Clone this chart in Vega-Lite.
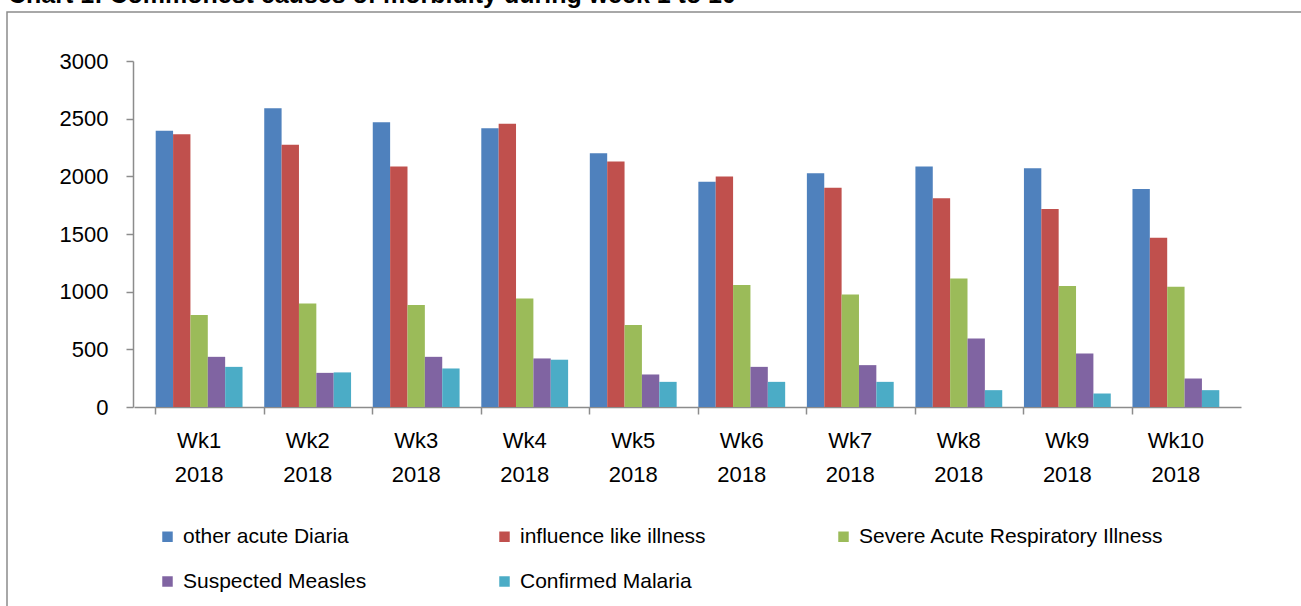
{
  "$schema": "https://vega.github.io/schema/vega-lite/v6.json",
  "autosize": "none",
  "padding": {"left": 7, "top": 12, "right": 0, "bottom": 0},
  "width": 1300,
  "height": 600,
  "background": "white",
  "title": {
    "text": "Chart 1: Commonest causes of morbidity during week 1 to 10",
    "anchor": "start",
    "frame": "group",
    "font": "Liberation Sans",
    "fontSize": 25,
    "fontWeight": "bold",
    "color": "black",
    "baseline": "alphabetic",
    "offset": 0,
    "dx": 1,
    "dy": 16
  },
  "config": {
    "view": {"stroke": "#8c8c8c", "strokeWidth": 1.5},
    "font": "Liberation Sans"
  },
  "data": {
    "values": [
      {"week": "Wk1 2018", "cause": "other acute Diaria", "cases": 2395},
      {"week": "Wk1 2018", "cause": "influence like illness", "cases": 2365},
      {"week": "Wk1 2018", "cause": "Severe Acute Respiratory Illness", "cases": 797},
      {"week": "Wk1 2018", "cause": "Suspected Measles", "cases": 435},
      {"week": "Wk1 2018", "cause": "Confirmed Malaria", "cases": 348},
      {"week": "Wk2 2018", "cause": "other acute Diaria", "cases": 2590},
      {"week": "Wk2 2018", "cause": "influence like illness", "cases": 2273},
      {"week": "Wk2 2018", "cause": "Severe Acute Respiratory Illness", "cases": 898},
      {"week": "Wk2 2018", "cause": "Suspected Measles", "cases": 296},
      {"week": "Wk2 2018", "cause": "Confirmed Malaria", "cases": 300},
      {"week": "Wk3 2018", "cause": "other acute Diaria", "cases": 2469},
      {"week": "Wk3 2018", "cause": "influence like illness", "cases": 2085},
      {"week": "Wk3 2018", "cause": "Severe Acute Respiratory Illness", "cases": 884},
      {"week": "Wk3 2018", "cause": "Suspected Measles", "cases": 435},
      {"week": "Wk3 2018", "cause": "Confirmed Malaria", "cases": 334},
      {"week": "Wk4 2018", "cause": "other acute Diaria", "cases": 2417},
      {"week": "Wk4 2018", "cause": "influence like illness", "cases": 2455},
      {"week": "Wk4 2018", "cause": "Severe Acute Respiratory Illness", "cases": 941},
      {"week": "Wk4 2018", "cause": "Suspected Measles", "cases": 421},
      {"week": "Wk4 2018", "cause": "Confirmed Malaria", "cases": 410},
      {"week": "Wk5 2018", "cause": "other acute Diaria", "cases": 2200},
      {"week": "Wk5 2018", "cause": "influence like illness", "cases": 2128},
      {"week": "Wk5 2018", "cause": "Severe Acute Respiratory Illness", "cases": 710},
      {"week": "Wk5 2018", "cause": "Suspected Measles", "cases": 282},
      {"week": "Wk5 2018", "cause": "Confirmed Malaria", "cases": 218},
      {"week": "Wk6 2018", "cause": "other acute Diaria", "cases": 1954},
      {"week": "Wk6 2018", "cause": "influence like illness", "cases": 1998},
      {"week": "Wk6 2018", "cause": "Severe Acute Respiratory Illness", "cases": 1057},
      {"week": "Wk6 2018", "cause": "Suspected Measles", "cases": 348},
      {"week": "Wk6 2018", "cause": "Confirmed Malaria", "cases": 218},
      {"week": "Wk7 2018", "cause": "other acute Diaria", "cases": 2027},
      {"week": "Wk7 2018", "cause": "influence like illness", "cases": 1902},
      {"week": "Wk7 2018", "cause": "Severe Acute Respiratory Illness", "cases": 976},
      {"week": "Wk7 2018", "cause": "Suspected Measles", "cases": 363},
      {"week": "Wk7 2018", "cause": "Confirmed Malaria", "cases": 218},
      {"week": "Wk8 2018", "cause": "other acute Diaria", "cases": 2085},
      {"week": "Wk8 2018", "cause": "influence like illness", "cases": 1810},
      {"week": "Wk8 2018", "cause": "Severe Acute Respiratory Illness", "cases": 1115},
      {"week": "Wk8 2018", "cause": "Suspected Measles", "cases": 594},
      {"week": "Wk8 2018", "cause": "Confirmed Malaria", "cases": 146},
      {"week": "Wk9 2018", "cause": "other acute Diaria", "cases": 2070},
      {"week": "Wk9 2018", "cause": "influence like illness", "cases": 1717},
      {"week": "Wk9 2018", "cause": "Severe Acute Respiratory Illness", "cases": 1049},
      {"week": "Wk9 2018", "cause": "Suspected Measles", "cases": 464},
      {"week": "Wk9 2018", "cause": "Confirmed Malaria", "cases": 117},
      {"week": "Wk10 2018", "cause": "other acute Diaria", "cases": 1891},
      {"week": "Wk10 2018", "cause": "influence like illness", "cases": 1468},
      {"week": "Wk10 2018", "cause": "Severe Acute Respiratory Illness", "cases": 1043},
      {"week": "Wk10 2018", "cause": "Suspected Measles", "cases": 247},
      {"week": "Wk10 2018", "cause": "Confirmed Malaria", "cases": 146}
    ]
  },
  "mark": {"type": "bar", "stroke": null},
  "encoding": {
    "x": {
      "field": "week",
      "type": "nominal",
      "sort": null,
      "scale": {"range": [127, 1234], "paddingInner": 0.2, "paddingOuter": 0.2},
      "axis": {
        "title": null,
        "orient": "bottom",
        "offset": -205,
        "labelAngle": 0,
        "labelExpr": "split(datum.label, ' ')",
        "labelFont": "Liberation Sans",
        "labelFontSize": 22,
        "labelColor": "black",
        "labelLineHeight": 34,
        "labelPadding": 16,
        "bandPosition": 0,
        "domainColor": "#8c8c8c",
        "domainWidth": 1.5,
        "tickColor": "#8c8c8c",
        "tickWidth": 1.5,
        "tickSize": 7,
        "grid": false
      }
    },
    "xOffset": {
      "field": "cause",
      "type": "nominal",
      "sort": ["other acute Diaria", "influence like illness", "Severe Acute Respiratory Illness", "Suspected Measles", "Confirmed Malaria"],
      "scale": {"paddingInner": 0, "paddingOuter": 0}
    },
    "y": {
      "field": "cases",
      "type": "quantitative",
      "scale": {"domain": [0, 3000], "range": [395, 49], "nice": false},
      "axis": {
        "title": null,
        "orient": "left",
        "offset": -126,
        "values": [0, 500, 1000, 1500, 2000, 2500, 3000],
        "format": "d",
        "labelFont": "Liberation Sans",
        "labelFontSize": 22,
        "labelColor": "black",
        "labelPadding": 18,
        "domainColor": "#8c8c8c",
        "domainWidth": 1.5,
        "tickColor": "#8c8c8c",
        "tickWidth": 1.5,
        "tickSize": 7,
        "grid": false
      }
    },
    "color": {
      "field": "cause",
      "type": "nominal",
      "sort": ["other acute Diaria", "influence like illness", "Severe Acute Respiratory Illness", "Suspected Measles", "Confirmed Malaria"],
      "scale": {
        "domain": ["other acute Diaria", "influence like illness", "Severe Acute Respiratory Illness", "Suspected Measles", "Confirmed Malaria"],
        "range": ["#4F81BD", "#C0504D", "#9BBB59", "#8064A2", "#4BACC6"]
      },
      "legend": {
        "title": null,
        "orient": "none",
        "legendX": 150,
        "legendY": 514,
        "direction": "horizontal",
        "columns": 3,
        "columnPadding": 127,
        "rowPadding": 23,
        "symbolType": "square",
        "symbolSize": 110,
        "symbolStrokeWidth": 0,
        "labelFont": "Liberation Sans",
        "labelFontSize": 21,
        "labelColor": "black",
        "labelOffset": 5,
        "labelLimit": 400
      }
    }
  }
}
